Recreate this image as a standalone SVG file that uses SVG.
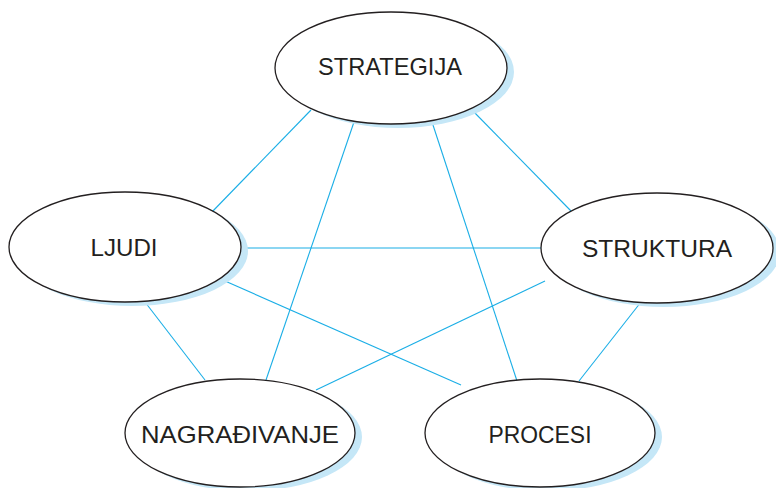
<svg xmlns="http://www.w3.org/2000/svg" width="776" height="488" viewBox="0 0 776 488">
<style>
.sh{fill:#c5e7f7;stroke:none}
.el{fill:#fff;stroke:#231f20;stroke-width:1.3}
.t{font-family:"Liberation Sans",Arial,sans-serif;font-size:24px;fill:#231f20;text-anchor:middle}
.c line{stroke:#1aaee6;stroke-width:1.1}
</style>
<rect width="776" height="488" fill="#fff"/>
<g class="c" id="connectors">
<line x1="311" y1="110" x2="211" y2="213"/>
<line x1="354" y1="122" x2="266" y2="380"/>
<line x1="432" y1="122" x2="517" y2="381"/>
<line x1="472" y1="110" x2="571" y2="211"/>
<line x1="241" y1="248" x2="541" y2="248"/>
<line x1="225" y1="281" x2="461" y2="385"/>
<line x1="145" y1="302" x2="205" y2="380"/>
<line x1="545" y1="281" x2="316" y2="390"/>
<line x1="641" y1="302" x2="579" y2="381"/>
</g>
<g id="strategija">
<ellipse class="sh" cx="398" cy="72" rx="116" ry="56"/>
<ellipse class="el" cx="391" cy="68" rx="116" ry="56"/>
<text class="t" x="390" y="75" textLength="144" lengthAdjust="spacingAndGlyphs">STRATEGIJA</text>
</g>
<g id="ljudi">
<ellipse class="sh" cx="132" cy="251" rx="116" ry="55"/>
<ellipse class="el" cx="125" cy="247" rx="116" ry="55"/>
<text class="t" x="124" y="256" textLength="67" lengthAdjust="spacingAndGlyphs">LJUDI</text>
</g>
<g id="struktura">
<ellipse class="sh" cx="664" cy="252" rx="116" ry="55"/>
<ellipse class="el" cx="657" cy="248" rx="116" ry="55"/>
<text class="t" x="657" y="257" textLength="150" lengthAdjust="spacingAndGlyphs">STRUKTURA</text>
</g>
<g id="nagradivanje">
<ellipse class="sh" cx="247" cy="437" rx="115" ry="54"/>
<ellipse class="el" cx="240" cy="433" rx="115" ry="54"/>
<text class="t" x="240" y="443" textLength="198" lengthAdjust="spacingAndGlyphs">NAGRAĐIVANJE</text>
</g>
<g id="procesi">
<ellipse class="sh" cx="547" cy="437" rx="115" ry="54"/>
<ellipse class="el" cx="540" cy="433" rx="115" ry="54"/>
<text class="t" x="540" y="443" textLength="103" lengthAdjust="spacingAndGlyphs">PROCESI</text>
</g>
</svg>
